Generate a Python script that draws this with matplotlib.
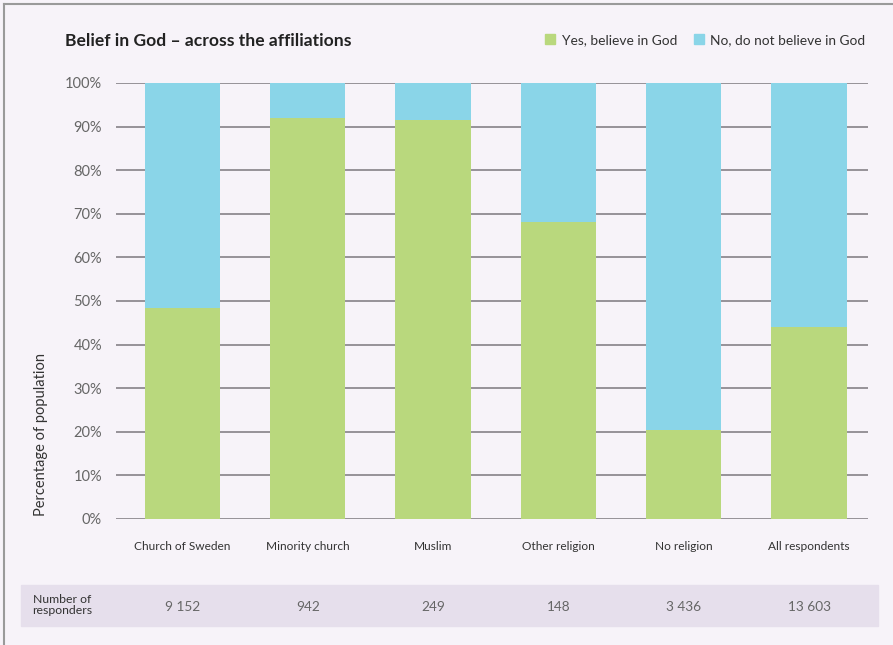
import matplotlib.pyplot as plt
from matplotlib.lines import Line2D
from matplotlib.patches import Rectangle

categories = ['Church of Sweden', 'Minority church', 'Muslim', 'Other religion',
              'No religion', 'All respondents']
yes_god = [48.3, 92.0, 91.5, 68.1, 20.3, 44.0]
no_god = [100 - v for v in yes_god]
responders = ['9 152', '942', '249', '148', '3 436', '13 603']

bg = '#f7f3f9'
green = '#b9d87d'
blue = '#8ad5e8'
font = ['Lato', 'DejaVu Sans']
plt.rcParams['font.family'] = font

W, H = 893, 645
fig = plt.figure(figsize=(W / 100, H / 100), dpi=100, facecolor=bg)
ax = fig.add_axes([116 / W, 126 / H, 752 / W, 436 / H], facecolor=bg)

x = range(len(categories))
ax.bar(x, yes_god, width=0.6, color=green, zorder=2, label='Yes, believe in God')
ax.bar(x, no_god, bottom=yes_god, width=0.6, color=blue, zorder=2,
       label='No, do not believe in God')

ax.set_xlim(-0.53, len(categories) - 0.53)
ax.set_ylim(0, 100)
ax.set_yticks(range(0, 101, 10))
ax.set_yticklabels([f'{v}%' for v in range(0, 101, 10)], fontsize=10.5, color='#666666')
ax.yaxis.grid(True, color='#8e8a90', linewidth=1.3, zorder=0)
ax.tick_params(axis='y', length=0, pad=10)
ax.set_xticks(list(x))
ax.set_xticklabels(categories, fontsize=8.6, color='#333333')
ax.tick_params(axis='x', length=0, pad=16)
for s in ax.spines.values():
    s.set_visible(False)

fig.text(41 / W, 1 - 435 / H, 'Percentage of population', rotation=90,
         ha='center', va='center', fontsize=10.5, color='#333333')

fig.text(65 / W, 1 - 41 / H, 'Belief in God – across the affiliations',
         ha='left', va='center', fontsize=12.6, fontweight='bold', color='#222222')

handles = [Line2D([], [], marker='s', linestyle='none', markersize=7, color=green),
           Line2D([], [], marker='s', linestyle='none', markersize=7, color=blue)]
fig.legend(handles, ['Yes, believe in God', 'No, do not believe in God'],
           loc='center right', bbox_to_anchor=(878 / W, 1 - 40 / H), ncol=2,
           frameon=False, fontsize=9.9, handlelength=0.7, handletextpad=0.5,
           columnspacing=1.2, labelcolor='#333333')

# responder counts band below the chart
fig.patches.append(Rectangle((21 / W, 1 - 626 / H), 857 / W, 41 / H,
                             transform=fig.transFigure, color='#e6dfec', zorder=0))
fig.text(62 / W, 1 - 605 / H, 'Number of\nresponders', ha='center', va='center',
         fontsize=8.8, color='#333333', linespacing=1.1)
for i, n in enumerate(responders):
    xf = ax.transData.transform((i, 0))[0] / W
    fig.text(xf, 1 - 607 / H, n, ha='center', va='center', fontsize=9.8, color='#666666')

# frame lines on top and left
fig.add_artist(Line2D([4 / W, 1], [1 - 4 / H, 1 - 4 / H], transform=fig.transFigure,
                      color='#9a9a9a', linewidth=1.5))
fig.add_artist(Line2D([4 / W, 4 / W], [0, 1 - 4 / H], transform=fig.transFigure,
                      color='#9a9a9a', linewidth=1.5))

fig.savefig('out.png', dpi=100, facecolor=bg)
